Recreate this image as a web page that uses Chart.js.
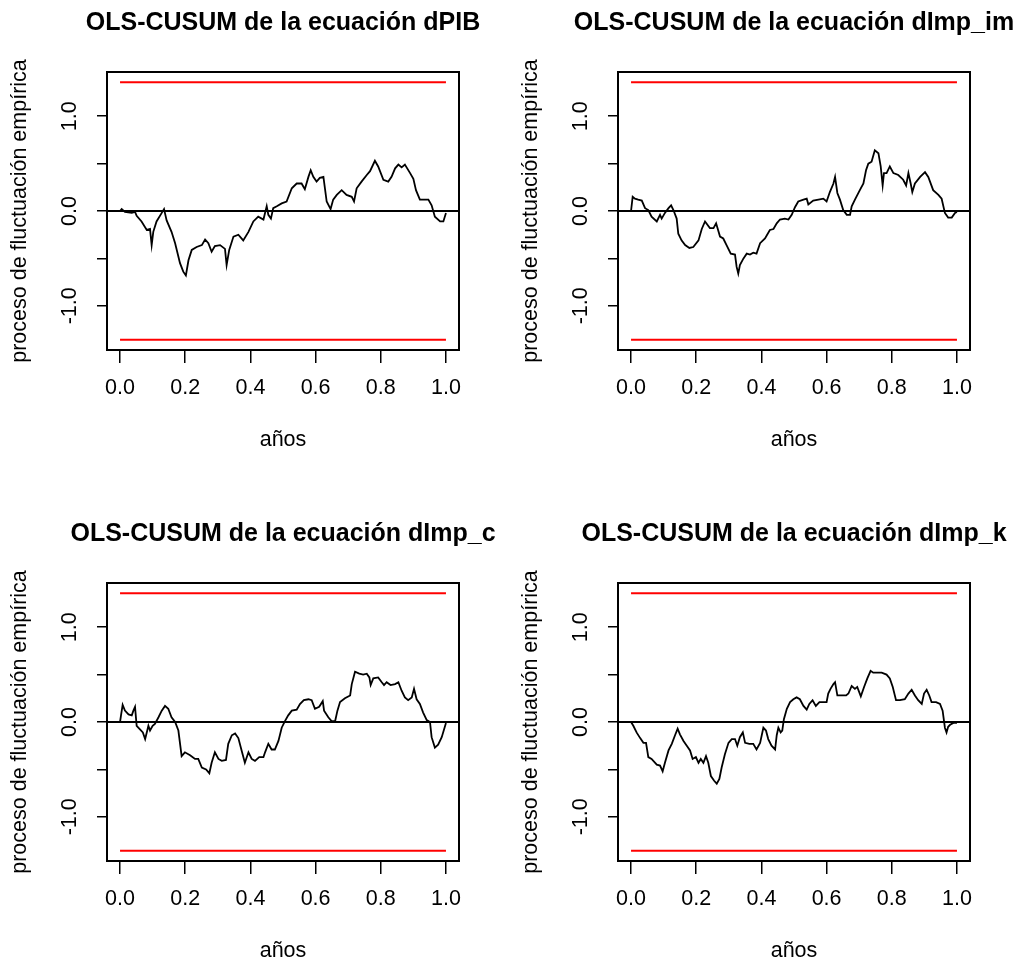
<!DOCTYPE html>
<html><head><meta charset="utf-8">
<script src="https://cdn.jsdelivr.net/npm/chart.js@4/dist/chart.umd.min.js"></script>
<style>
html,body{margin:0;padding:0;background:#fff;overflow:hidden;width:1013px;height:962px;position:relative;}
.p{position:absolute;}
canvas{display:block;}
</style></head><body>
<div class="p" style="left:0;top:0"><canvas id="c1" width="566" height="460"></canvas></div>
<div class="p" style="left:511px;top:0"><canvas id="c2" width="566" height="460"></canvas></div>
<div class="p" style="left:0;top:511px"><canvas id="c3" width="566" height="460"></canvas></div>
<div class="p" style="left:511px;top:511px"><canvas id="c4" width="566" height="460"></canvas></div>
<script>
// ---- data ----
const xTicks = [0, 0.2, 0.4, 0.6, 0.8, 1.0];
const yTicks = [-1, -0.5, 0, 0.5, 1];
const yLabeled = [-1, 0, 1];
const boundary = 1.358;
const xLimits = [-0.04, 1.04];
const yLimits = [-1.4666, 1.4666];
const xTitle = 'años';
const yTitle = 'proceso de fluctuación empírica';
const titles = ['OLS-CUSUM de la ecuación dPIB', 'OLS-CUSUM de la ecuación dImp_im',
                'OLS-CUSUM de la ecuación dImp_c', 'OLS-CUSUM de la ecuación dImp_k'];

const tPIB = [0,0.005,0.015,0.036,0.046,0.051,0.066,0.082,0.092,0.097,0.102,0.112,0.128,0.135,0.143,0.158,0.169,0.184,0.194,0.202,0.210,0.220,0.235,0.251,0.261,0.271,0.281,0.291,0.307,0.322,0.327,0.335,0.348,0.363,0.378,0.394,0.409,0.424,0.440,0.450,0.455,0.463,0.470,0.481,0.496,0.511,0.527,0.542,0.557,0.567,0.578,0.585,0.593,0.603,0.613,0.624,0.634,0.646,0.654,0.665,0.680,0.695,0.711,0.718,0.726,0.741,0.757,0.767,0.782,0.792,0.808,0.823,0.833,0.844,0.854,0.864,0.874,0.890,0.900,0.908,0.920,0.946,0.956,0.966,0.982,0.992,1.000];
const vPIB = [0,0.02,-0.01,-0.02,-0.01,-0.05,-0.11,-0.20,-0.19,-0.36,-0.22,-0.11,-0.02,0.02,-0.10,-0.22,-0.34,-0.55,-0.64,-0.68,-0.52,-0.41,-0.38,-0.36,-0.30,-0.34,-0.43,-0.37,-0.36,-0.40,-0.57,-0.41,-0.27,-0.25,-0.31,-0.22,-0.11,-0.06,-0.09,0.05,-0.04,-0.08,0.03,0.05,0.08,0.10,0.24,0.29,0.29,0.23,0.36,0.43,0.36,0.31,0.35,0.36,0.10,0.02,0.12,0.17,0.22,0.17,0.15,0.10,0.24,0.31,0.38,0.42,0.53,0.47,0.33,0.31,0.36,0.45,0.49,0.46,0.49,0.40,0.34,0.22,0.12,0.12,0.06,-0.06,-0.11,-0.11,-0.02];

const tIm = [0,0.005,0.012,0.022,0.033,0.043,0.053,0.063,0.079,0.089,0.094,0.104,0.115,0.123,0.130,0.140,0.145,0.155,0.166,0.179,0.191,0.207,0.217,0.227,0.242,0.253,0.261,0.273,0.283,0.293,0.306,0.319,0.324,0.329,0.334,0.345,0.355,0.365,0.375,0.385,0.396,0.411,0.426,0.437,0.447,0.457,0.472,0.483,0.493,0.503,0.513,0.529,0.539,0.544,0.559,0.575,0.590,0.600,0.610,0.621,0.626,0.633,0.641,0.651,0.662,0.672,0.677,0.687,0.702,0.713,0.721,0.728,0.738,0.748,0.759,0.766,0.772,0.776,0.784,0.794,0.805,0.820,0.835,0.844,0.851,0.858,0.863,0.871,0.887,0.902,0.912,0.927,0.943,0.953,0.963,0.973,0.984,0.994,1.000];
const vIm = [0,0.15,0.13,0.12,0.11,0.03,0.01,-0.06,-0.11,-0.04,-0.08,-0.02,0.03,0.06,0.01,-0.08,-0.24,-0.31,-0.36,-0.39,-0.38,-0.31,-0.19,-0.11,-0.18,-0.18,-0.13,-0.27,-0.29,-0.36,-0.45,-0.46,-0.59,-0.66,-0.57,-0.50,-0.45,-0.46,-0.44,-0.45,-0.34,-0.29,-0.20,-0.19,-0.13,-0.09,-0.08,-0.09,-0.04,0.04,0.10,0.12,0.13,0.07,0.11,0.12,0.13,0.10,0.20,0.29,0.36,0.19,0.12,0.01,-0.04,-0.04,0.05,0.12,0.22,0.29,0.43,0.50,0.52,0.64,0.61,0.47,0.27,0.40,0.40,0.47,0.40,0.38,0.33,0.27,0.40,0.29,0.20,0.29,0.36,0.41,0.36,0.22,0.17,0.13,-0.02,-0.07,-0.07,-0.02,-0.01];

const tC = [0,0.003,0.008,0.015,0.026,0.036,0.041,0.046,0.051,0.059,0.070,0.077,0.082,0.087,0.092,0.100,0.107,0.118,0.128,0.138,0.148,0.158,0.169,0.179,0.189,0.199,0.215,0.230,0.240,0.251,0.264,0.274,0.281,0.291,0.302,0.312,0.325,0.332,0.343,0.353,0.363,0.373,0.383,0.394,0.404,0.414,0.427,0.440,0.445,0.455,0.465,0.475,0.486,0.496,0.506,0.516,0.527,0.542,0.552,0.564,0.578,0.588,0.598,0.611,0.622,0.626,0.639,0.649,0.660,0.667,0.675,0.690,0.706,0.711,0.721,0.734,0.746,0.757,0.765,0.769,0.777,0.792,0.803,0.810,0.818,0.830,0.844,0.854,0.864,0.874,0.884,0.895,0.902,0.910,0.920,0.930,0.941,0.951,0.956,0.966,0.976,0.987,1.000];
const vC = [0,0.07,0.18,0.12,0.08,0.07,0.12,0.16,-0.04,-0.07,-0.11,-0.18,-0.11,-0.04,-0.09,-0.04,-0.02,0.05,0.12,0.17,0.14,0.05,0.00,-0.09,-0.36,-0.32,-0.35,-0.39,-0.39,-0.48,-0.50,-0.54,-0.43,-0.32,-0.39,-0.41,-0.40,-0.23,-0.14,-0.12,-0.17,-0.30,-0.43,-0.32,-0.39,-0.41,-0.37,-0.37,-0.32,-0.23,-0.29,-0.29,-0.20,-0.06,0.01,0.07,0.12,0.13,0.19,0.23,0.24,0.23,0.14,0.16,0.22,0.12,0.05,0.01,0.01,0.12,0.21,0.25,0.28,0.40,0.53,0.51,0.50,0.51,0.47,0.39,0.46,0.47,0.42,0.39,0.42,0.39,0.40,0.42,0.33,0.26,0.23,0.26,0.35,0.24,0.19,0.10,0.02,0.00,-0.16,-0.27,-0.24,-0.16,-0.01];

const tK = [0,0.007,0.017,0.028,0.038,0.046,0.053,0.063,0.079,0.089,0.097,0.104,0.115,0.125,0.135,0.143,0.150,0.161,0.171,0.181,0.189,0.199,0.207,0.214,0.222,0.230,0.237,0.245,0.255,0.263,0.271,0.278,0.288,0.299,0.309,0.319,0.326,0.334,0.343,0.350,0.363,0.375,0.385,0.396,0.406,0.414,0.421,0.431,0.442,0.447,0.452,0.459,0.464,0.469,0.478,0.488,0.498,0.508,0.518,0.529,0.539,0.547,0.557,0.567,0.578,0.590,0.600,0.605,0.612,0.621,0.626,0.633,0.646,0.660,0.667,0.677,0.687,0.694,0.705,0.715,0.725,0.735,0.743,0.754,0.769,0.784,0.794,0.803,0.813,0.825,0.840,0.851,0.861,0.871,0.881,0.892,0.899,0.907,0.915,0.922,0.936,0.948,0.956,0.963,0.968,0.973,0.979,0.989,1.000];
const vK = [0,-0.04,-0.11,-0.17,-0.22,-0.22,-0.37,-0.39,-0.45,-0.46,-0.52,-0.43,-0.30,-0.23,-0.14,-0.07,-0.13,-0.20,-0.25,-0.30,-0.39,-0.37,-0.43,-0.39,-0.43,-0.36,-0.43,-0.57,-0.62,-0.65,-0.60,-0.48,-0.34,-0.22,-0.18,-0.18,-0.25,-0.16,-0.11,-0.22,-0.23,-0.23,-0.29,-0.22,-0.06,-0.09,-0.18,-0.25,-0.29,-0.14,-0.06,-0.11,-0.09,0.03,0.14,0.21,0.24,0.26,0.24,0.17,0.13,0.19,0.23,0.17,0.21,0.21,0.21,0.30,0.35,0.40,0.42,0.28,0.28,0.28,0.30,0.38,0.35,0.37,0.27,0.37,0.46,0.54,0.52,0.52,0.52,0.50,0.46,0.37,0.23,0.23,0.24,0.30,0.34,0.28,0.23,0.19,0.30,0.34,0.28,0.21,0.21,0.19,0.12,-0.06,-0.11,-0.05,-0.03,-0.01,-0.01];

// ---- drawing ----
const FONT = "'Liberation Sans', Arial, sans-serif";
Chart.defaults.font.family = FONT;
Chart.defaults.color = '#000';

const boxPlugin = {
  id: 'box',
  afterDraw(chart) {
    const a = chart.chartArea, ctx = chart.ctx;
    ctx.save();
    ctx.strokeStyle = '#000';
    ctx.lineWidth = 2;
    ctx.strokeRect(a.left, a.top, a.right - a.left, a.bottom - a.top);
    ctx.restore();
  }
};

function pts(xs, ys) { return xs.map((x, i) => ({x: x, y: ys[i]})); }

function makeChart(id, title, xs, ys) {
  new Chart(document.getElementById(id), {
    type: 'line',
    data: {
      datasets: [
        {data: pts(xs, ys), borderColor: '#000', borderWidth: 1.8, pointRadius: 0, tension: 0, fill: false},
        {data: pts(xLimits, [0, 0]), borderColor: '#000', borderWidth: 2, pointRadius: 0, fill: false},
        {data: pts([0, 1], [boundary, boundary]), borderColor: '#ff0000', borderWidth: 2, pointRadius: 0, fill: false},
        {data: pts([0, 1], [-boundary, -boundary]), borderColor: '#ff0000', borderWidth: 2, pointRadius: 0, fill: false}
      ]
    },
    options: {
      responsive: false, animation: false, devicePixelRatio: 1,
      events: [],
      layout: {padding: {left: 0, right: 0, top: 0, bottom: 0}},
      plugins: {
        legend: {display: false}, tooltip: {enabled: false},
        title: {display: true, text: title, color: '#000',
                font: {family: FONT, size: 25, weight: 'bold', lineHeight: 1.2},
                padding: {top: 8, bottom: 34}}
      },
      scales: {
        x: {
          type: 'linear', min: xLimits[0], max: xLimits[1],
          afterBuildTicks: s => { s.ticks = xTicks.map(v => ({value: v})); },
          afterFit: s => { s.height = 110; },
          grid: {display: true, drawOnChartArea: false, drawTicks: true, tickLength: 13, color: '#000', lineWidth: 1.5},
          border: {display: false},
          ticks: {color: '#000', font: {family: FONT, size: 21.5}, padding: 12, minRotation: 0, maxRotation: 0, autoSkip: false,
                   callback: v => Number(v).toFixed(1)},
          title: {display: true, text: xTitle, color: '#000', font: {family: FONT, size: 21.5}, padding: {top: 0, bottom: 7}}
        },
        y: {
          type: 'linear', position: 'left', min: yLimits[0], max: yLimits[1],
          afterBuildTicks: s => { s.ticks = yTicks.map(v => ({value: v})); },
          afterFit: s => { s.width = 107; },
          grid: {display: true, drawOnChartArea: false, drawTicks: true, tickLength: 10, color: '#000', lineWidth: 1.5},
          border: {display: false},
          ticks: {color: '#000', font: {family: FONT, size: 21.5}, padding: 8.5, minRotation: 90, maxRotation: 90,
                  crossAlign: 'center', autoSkip: false,
                  callback: v => yLabeled.includes(v) ? Number(v).toFixed(1) : ''},
          title: {display: true, text: yTitle, color: '#000', font: {family: FONT, size: 21.5}, padding: {top: 7, bottom: 0}}
        },
        yRight: {
          type: 'linear', position: 'right', display: true,
          afterFit: s => { s.width = 107; },
          grid: {display: false}, border: {display: false}, ticks: {display: false}, title: {display: false}
        }
      }
    },
    plugins: [boxPlugin]
  });
}

makeChart('c1', titles[0], tPIB, vPIB);
makeChart('c2', titles[1], tIm, vIm);
makeChart('c3', titles[2], tC, vC);
makeChart('c4', titles[3], tK, vK);
</script>
</body></html>
